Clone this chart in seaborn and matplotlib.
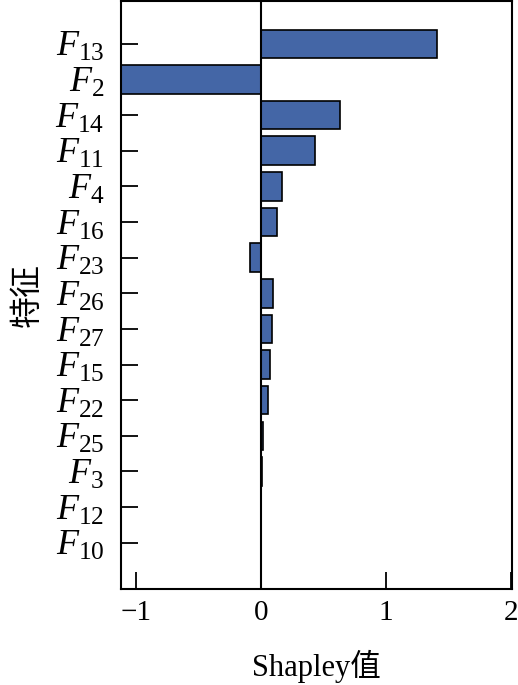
import matplotlib
matplotlib.use("Agg")
import matplotlib.pyplot as plt
import seaborn as sns
import pandas as pd

# feature ids (top to bottom) and mean Shapley values
features = ["13", "2", "14", "11", "4", "16", "23", "26", "27", "15", "22", "25", "3", "12", "10"]
shap_vals = [1.41, -1.15, 0.63, 0.43, 0.17, 0.13, -0.09, 0.10, 0.09, 0.07, 0.06, 0.02, 0.01, 0.004, 0.002]
xticks = [-1, 0, 1, 2]

labels = ["$F_{%s}$" % f for f in features]
df = pd.DataFrame({"feature": labels, "shap": shap_vals})

sns.set_style("ticks")
plt.rcParams["font.family"] = ["Liberation Serif", "Noto Sans CJK SC"]
plt.rcParams["mathtext.fontset"] = "custom"
plt.rcParams["mathtext.rm"] = "Liberation Serif"
plt.rcParams["mathtext.it"] = "Liberation Serif:italic"
plt.rcParams["text.color"] = "black"
plt.rcParams["axes.labelcolor"] = "black"
plt.rcParams["xtick.color"] = "black"
plt.rcParams["ytick.color"] = "black"

fig = plt.figure(figsize=(5.18, 6.85), dpi=100)
ax = fig.add_axes([0.2336, 0.1401, 0.7548, 0.8584])

sns.barplot(data=df, x="shap", y="feature", orient="h", color="#4466a6",
            saturation=1, width=0.8, edgecolor="black", linewidth=1.2, ax=ax)
ax.axvline(0, color="black", lw=1.5, zorder=5)

ax.set_xlim(-1.12, 2.01)
ax.set_ylim(15 - 1 + 1.3, -1.2)
ax.set_xticks(xticks)
ax.set_xticklabels(["\u22121", "0", "1", "2"])

ax.tick_params(axis="both", direction="in", length=12, width=1.3)
ax.tick_params(axis="x", labelsize=21, pad=8)
ax.tick_params(axis="y", labelsize=26, pad=12)
for s in ax.spines.values():
    s.set_linewidth(1.5)
    s.set_color("black")

ax.set_xlabel("Shapley值", fontsize=22)
ax.xaxis.label.set_va("baseline")
ax.xaxis.set_label_coords(0.5, -0.148)
ax.set_ylabel("特征", fontsize=23,
              family=["Noto Sans CJK SC", "DejaVu Sans"])
ax.yaxis.set_label_coords(-0.2, 0.5)

fig.savefig("out.png", dpi=100)
